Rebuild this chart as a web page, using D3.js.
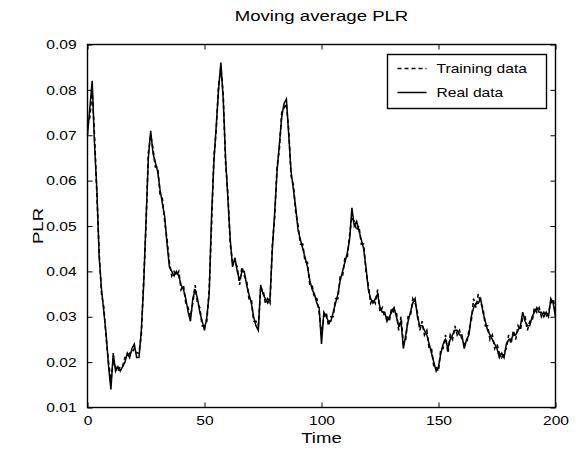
<!DOCTYPE html>
<html>
<head>
<meta charset="utf-8">
<script src="https://cdn.jsdelivr.net/npm/d3@7"></script>
<style>
  body { margin: 0; background: #fff; }
  svg { display: block; font-family: "Liberation Sans", Arial, sans-serif; }
  .tick text { font-size: 13px; fill: #000; }
</style>
</head>
<body>
<script>
// time runs 0..200, one value per step
const realData = [
  0.070, 0.076, 0.082, 0.068, 0.058, 0.043, 0.036, 0.031, 0.026, 0.019,
  0.014, 0.022, 0.018, 0.019, 0.018, 0.019, 0.020, 0.022, 0.021, 0.023,
  0.024, 0.021, 0.021, 0.027, 0.037, 0.051, 0.065, 0.071, 0.066, 0.064,
  0.062, 0.058, 0.055, 0.052, 0.046, 0.041, 0.040, 0.039, 0.040, 0.039,
  0.037, 0.036, 0.034, 0.031, 0.029, 0.034, 0.036, 0.034, 0.031, 0.029,
  0.027, 0.030, 0.035, 0.052, 0.064, 0.072, 0.080, 0.086, 0.078, 0.065,
  0.056, 0.047, 0.041, 0.043, 0.040, 0.038, 0.040, 0.040, 0.037, 0.035,
  0.033, 0.030, 0.028, 0.027, 0.037, 0.035, 0.034, 0.033, 0.034, 0.045,
  0.053, 0.062, 0.068, 0.074, 0.077, 0.078, 0.070, 0.062, 0.058, 0.054,
  0.049, 0.047, 0.045, 0.043, 0.041, 0.038, 0.036, 0.035, 0.033, 0.032,
  0.024, 0.031, 0.030, 0.029, 0.029, 0.031, 0.033, 0.035, 0.038, 0.040,
  0.042, 0.044, 0.047, 0.054, 0.050, 0.051, 0.049, 0.047, 0.045, 0.041,
  0.036, 0.034, 0.033, 0.034, 0.035, 0.032, 0.031, 0.031, 0.029, 0.030,
  0.031, 0.032, 0.030, 0.028, 0.029, 0.023, 0.026, 0.029, 0.031, 0.033,
  0.034, 0.030, 0.028, 0.028, 0.027, 0.026, 0.024, 0.022, 0.020, 0.018,
  0.019, 0.022, 0.024, 0.025, 0.023, 0.025, 0.026, 0.027, 0.027, 0.026,
  0.026, 0.023, 0.025, 0.026, 0.030, 0.032, 0.033, 0.033, 0.034, 0.031,
  0.029, 0.027, 0.026, 0.025, 0.024, 0.023, 0.021, 0.022, 0.021, 0.024,
  0.025, 0.025, 0.026, 0.026, 0.027, 0.028, 0.031, 0.029, 0.028, 0.028,
  0.030, 0.031, 0.032, 0.031, 0.031, 0.030, 0.031, 0.030, 0.034, 0.033, 0.030
];

const trainingData = [
  0.072, 0.074, 0.080, 0.070, 0.057, 0.044, 0.035, 0.032, 0.025, 0.020,
  0.016, 0.020, 0.019, 0.018, 0.019, 0.019, 0.021, 0.021, 0.022, 0.022,
  0.023, 0.022, 0.022, 0.026, 0.038, 0.050, 0.066, 0.070, 0.067, 0.063,
  0.063, 0.057, 0.056, 0.051, 0.047, 0.042, 0.039, 0.040, 0.039, 0.040,
  0.036, 0.037, 0.033, 0.032, 0.030, 0.033, 0.037, 0.033, 0.032, 0.028,
  0.028, 0.029, 0.036, 0.050, 0.065, 0.071, 0.081, 0.085, 0.079, 0.064,
  0.057, 0.046, 0.042, 0.042, 0.041, 0.037, 0.041, 0.039, 0.038, 0.034,
  0.034, 0.029, 0.029, 0.028, 0.036, 0.036, 0.033, 0.034, 0.033, 0.046,
  0.052, 0.063, 0.067, 0.075, 0.076, 0.077, 0.071, 0.061, 0.059, 0.053,
  0.050, 0.046, 0.046, 0.042, 0.042, 0.037, 0.037, 0.034, 0.034, 0.031,
  0.026, 0.030, 0.031, 0.028, 0.030, 0.030, 0.034, 0.034, 0.039, 0.039,
  0.043, 0.043, 0.048, 0.052, 0.051, 0.049, 0.050, 0.046, 0.046, 0.040,
  0.037, 0.033, 0.034, 0.033, 0.036, 0.031, 0.032, 0.030, 0.030, 0.029,
  0.032, 0.031, 0.031, 0.027, 0.030, 0.024, 0.025, 0.030, 0.030, 0.034,
  0.033, 0.031, 0.027, 0.029, 0.026, 0.027, 0.023, 0.023, 0.019, 0.019,
  0.018, 0.023, 0.023, 0.026, 0.022, 0.026, 0.025, 0.028, 0.026, 0.027,
  0.025, 0.024, 0.024, 0.027, 0.029, 0.034, 0.032, 0.035, 0.033, 0.032,
  0.028, 0.028, 0.025, 0.026, 0.023, 0.024, 0.022, 0.021, 0.022, 0.023,
  0.026, 0.024, 0.027, 0.025, 0.028, 0.027, 0.030, 0.030, 0.027, 0.029,
  0.029, 0.032, 0.031, 0.032, 0.030, 0.031, 0.030, 0.031, 0.033, 0.034, 0.031
];

const xTicks = [0, 50, 100, 150, 200];
const yTicks = [0.01, 0.02, 0.03, 0.04, 0.05, 0.06, 0.07, 0.08, 0.09];
const legendLabels = ["Training data", "Real data"];

const W = 576, H = 456;
const margin = { top: 44.5, right: 20.5, bottom: 48.5, left: 87.5 };
const width = W - margin.left - margin.right,
  height = H - margin.top - margin.bottom;
const stretch = "scale(1.2,1)"; // the scanned lettering is wide

const svg = d3.select("body").append("svg")
  .attr("width", W)
  .attr("height", H);

const g = svg.append("g")
  .attr("transform", "translate(" + margin.left + "," + margin.top + ")");

const x = d3.scaleLinear().domain([0, 200]).range([0, width]);
const y = d3.scaleLinear().domain([0.01, 0.09]).range([height, 0]);

// axes, matlab style ticks pointing inward on all 4 sides
const fmt = d3.format(".2f");
g.append("g")
  .attr("transform", "translate(0," + height + ")")
  .call(d3.axisBottom(x).tickValues(xTicks).tickSize(-5).tickPadding(8).tickSizeOuter(0));
g.append("g")
  .call(d3.axisTop(x).tickValues(xTicks).tickSize(-5).tickFormat("").tickSizeOuter(0));
g.append("g")
  .call(d3.axisLeft(y).tickValues(yTicks).tickSize(-5).tickPadding(9).tickFormat(fmt).tickSizeOuter(0));
g.append("g")
  .attr("transform", "translate(" + width + ",0)")
  .call(d3.axisRight(y).tickValues(yTicks).tickSize(-5).tickFormat("").tickSizeOuter(0));
g.selectAll(".domain").remove();
g.selectAll(".tick line").attr("stroke", "#000");
g.selectAll(".tick text").attr("transform", stretch);

g.append("rect")
  .attr("width", width)
  .attr("height", height)
  .attr("fill", "none")
  .attr("stroke", "#000")
  .attr("stroke-width", 1.4);

//lines
const line = d3.line()
  .x((d, i) => x(i))
  .y(d => y(d));

g.append("path")
  .datum(trainingData)
  .attr("d", line)
  .attr("fill", "none")
  .attr("stroke", "#000")
  .attr("stroke-width", 1.6)
  .attr("stroke-dasharray", "4,3");

g.append("path")
  .datum(realData)
  .attr("d", line)
  .attr("fill", "none")
  .attr("stroke", "#000")
  .attr("stroke-width", 1.5);

// Legend
const legend = svg.append("g").attr("transform", "translate(387.5,54.5)");
legend.append("rect")
  .attr("width", 159)
  .attr("height", 54)
  .attr("fill", "#fff")
  .attr("stroke", "#000")
  .attr("stroke-width", 1.4);
const item = legend.selectAll("g.item")
  .data(legendLabels)
  .enter().append("g")
  .attr("class", "item")
  .attr("transform", (d, i) => "translate(0," + (14 + i * 24) + ")");
item.append("line")
  .attr("x1", 10).attr("x2", 39)
  .attr("stroke", "#000")
  .attr("stroke-width", 1.5)
  .attr("stroke-dasharray", (d, i) => i == 0 ? "4,3" : null);
item.append("text")
  .attr("transform", "translate(49,0) " + stretch)
  .attr("dy", "0.35em")
  .attr("font-size", 13)
  .text(d => d);

// Titles
svg.append("text")
  .attr("transform", "translate(" + (margin.left + width / 2) + ",21) " + stretch)
  .attr("text-anchor", "middle")
  .attr("font-size", 15.5)
  .text("Moving average PLR");
svg.append("text")
  .attr("transform", "translate(" + (margin.left + width / 2) + ",443) " + stretch)
  .attr("text-anchor", "middle")
  .attr("font-size", 15.5)
  .text("Time");
svg.append("text")
  .attr("transform", "translate(43," + (margin.top + height / 2) + ") rotate(-90) " + stretch)
  .attr("text-anchor", "middle")
  .attr("font-size", 15.5)
  .text("PLR");
</script>
</body>
</html>
